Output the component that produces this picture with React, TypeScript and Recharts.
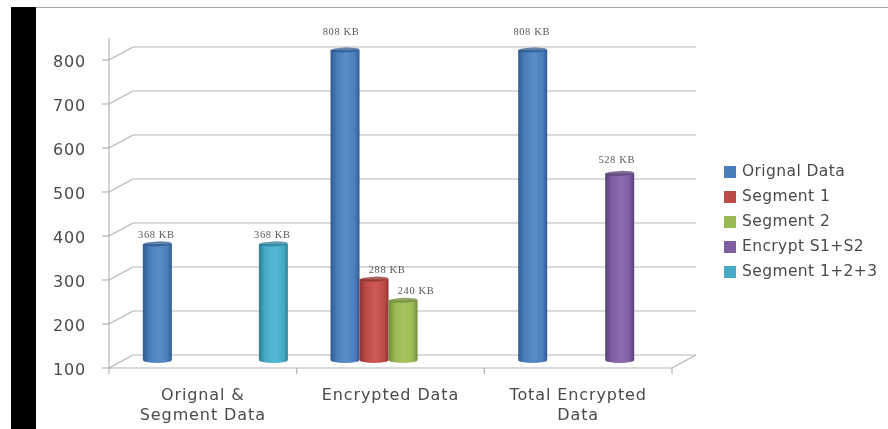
import { Bar, BarChart, CartesianGrid, LabelList, Legend, XAxis, YAxis } from 'recharts'

const categories = ['Orignal &\nSegment Data', 'Encrypted Data', 'Total Encrypted\nData']
const orignalData = [368, 808, 808]
const segment1 = [null, 288, null]
const segment2 = [null, 240, null]
const encryptS1S2 = [null, null, 528]
const segment123 = [368, null, null]
const yTicks = [100, 200, 300, 400, 500, 600, 700, 800]

const data = categories.map((name, i) => ({
	name,
	orignal: orignalData[i],
	seg1: segment1[i],
	seg2: segment2[i],
	encrypt: encryptS1S2[i],
	seg123: segment123[i],
}))

const series = [
	{ key: 'orignal', label: 'Orignal Data', color: '#4a7ebb', dark: '#2f5a8f', light: '#5a8ecb' },
	{ key: 'seg1', label: 'Segment 1', color: '#be4b48', dark: '#8f3330', light: '#cf5a56' },
	{ key: 'seg2', label: 'Segment 2', color: '#98b954', dark: '#6f8a38', light: '#a8c762' },
	{ key: 'encrypt', label: 'Encrypt S1+S2', color: '#7d5fa0', dark: '#574074', light: '#8c6db0' },
	{ key: 'seg123', label: 'Segment 1+2+3', color: '#46aac5', dark: '#2c7f96', light: '#52bad6' },
]

const W = 888
const H = 429
const FONT = '"DejaVu Sans", sans-serif'
const TEXT = '#4a4a4a'
const AXIS = '#b5b5b5'

// hand placed data labels in the original, [dx, lift]
const labelNudge: Record<string, [number, number]> = {
	'orignal-368': [-1, 9],
	'orignal-808-1': [-4, 18],
	'orignal-808-2': [-1, 18],
	'seg1-288': [13, 9],
	'seg2-240': [13, 9],
	'encrypt-528': [-3, 13],
	'seg123-368': [-1, 9],
}

const Cylinder = (props: any) => {
	const { x, y, width, height, seriesKey } = props
	if (height == null || height <= 0) return null
	const s = series.find((d) => d.key === seriesKey)!
	const bottom = y + height
	const rx = width / 2
	return (
		<g>
			<path
				d={`M${x} ${y} L${x} ${bottom - 2} A${rx} 3 0 0 0 ${x + width} ${bottom - 2} L${x + width} ${y} Z`}
				fill={`url(#cyl-${seriesKey})`}
			/>
			<ellipse
				cx={x + rx}
				cy={y}
				rx={rx}
				ry={2.5}
				fill={s.dark}
				fillOpacity={0.75}
				transform={`rotate(-2 ${x + rx} ${y})`}
			/>
		</g>
	)
}

const BarLabel = (props: any) => {
	const { x, y, width, value, index, seriesKey } = props
	if (value == null) return null
	const nudge =
		labelNudge[`${seriesKey}-${value}-${index}`] || labelNudge[`${seriesKey}-${value}`] || [0, 9]
	return (
		<text
			x={x + width / 2 + nudge[0]}
			y={y - nudge[1] + 3}
			textAnchor='middle'
			fontFamily='"Liberation Serif", serif'
			fontSize={10.5}
			letterSpacing={0.6}
			fill='#5a5a5a'
		>
			{value} KB
		</text>
	)
}

const ValueTick = (props: any) => {
	const { x, y, payload } = props
	return (
		<g>
			<line x1={x - 7} y1={y} x2={x} y2={y} stroke={AXIS} strokeWidth={1.2} />
			<line x1={x} y1={y} x2={x + 24} y2={y - 13} stroke={AXIS} strokeWidth={1.2} />
			<text x={x - 23} y={y + 7} textAnchor='end' fontFamily={FONT} fontSize={16} letterSpacing={0.8} fill={TEXT}>
				{payload.value}
			</text>
		</g>
	)
}

const CategoryTick = (props: any) => {
	const { x, y, payload, index, width, visibleTicksCount } = props
	const band = width / visibleTicksCount
	const lines = String(payload.value).split('\n')
	return (
		<g>
			{index === 0 && <line x1={x - band / 2} y1={y} x2={x - band / 2} y2={y + 6} stroke={AXIS} strokeWidth={1.2} />}
			<line x1={x + band / 2} y1={y} x2={x + band / 2} y2={y + 6} stroke={AXIS} strokeWidth={1.2} />
			{index === visibleTicksCount - 1 && (
				<line x1={x + band / 2} y1={y} x2={x + band / 2 + 24} y2={y - 13} stroke={AXIS} strokeWidth={1.2} />
			)}
			<text textAnchor='middle' fontFamily={FONT} fontSize={16} letterSpacing={0.9} fill={TEXT}>
				{lines.map((line, i) => (
					<tspan key={line} x={x} y={y + 32 + i * 20}>
						{line}
					</tspan>
				))}
			</text>
		</g>
	)
}

const layer = { position: 'absolute', left: 0, top: 0 } as const

export default function App() {
	return (
		<div style={{ position: 'absolute', left: 0, top: 0, width: W, height: H, background: '#fff', overflow: 'hidden', filter: 'blur(0.5px)' }}>
			<div style={{ ...layer, left: 11, top: 7, width: 25, height: 422, background: '#000' }} />
			<div style={{ ...layer, left: 36, top: 7, width: 852, height: 1, background: '#aaa' }} />

			{/* back wall */}
			<div style={layer}>
				<BarChart width={W} height={H} data={data} margin={{ left: 133, right: 192, top: 47, bottom: 74 }}>
					<CartesianGrid horizontal vertical={false} stroke='#b8b8b8' strokeWidth={1.2} />
					<XAxis dataKey='name' hide />
					<YAxis width={0} domain={[100, 800]} allowDataOverflow ticks={yTicks} interval={0} tick={() => <g />} axisLine={false} tickLine={false} />
					<Bar dataKey='seg1' fill='none' isAnimationActive={false} />
				</BarChart>
			</div>

			{/* front axes */}
			<div style={layer}>
				<BarChart width={W} height={H} data={data} margin={{ left: 49, right: 216, top: 38, bottom: 0 }}>
					<XAxis
						dataKey='name'
						height={61}
						tickLine={false}
						tickSize={0}
						tickMargin={0}
						tick={<CategoryTick />}
						interval={0}
						stroke={AXIS}
						strokeWidth={1.2}
					/>
					<YAxis
						width={60}
						domain={[100, 850]}
						ticks={yTicks}
						interval={0}
						tickLine={false}
						tickSize={0}
						tickMargin={0}
						tick={<ValueTick />}
						stroke={AXIS}
						strokeWidth={1.2}
					/>
					<Bar dataKey='orignal' fill='none' isAnimationActive={false} />
				</BarChart>
			</div>

			{/* bars, sitting halfway into the floor */}
			<div style={layer}>
				<BarChart
					width={W}
					height={H}
					data={data}
					barGap={0}
					barCategoryGap='11.65%'
					margin={{ left: 121, right: 40, top: 31.5, bottom: 67 }}
				>
					<defs>
						{series.map((s) => (
							<linearGradient key={s.key} id={`cyl-${s.key}`} x1='0' y1='0' x2='1' y2='0'>
								<stop offset='0%' stopColor={s.dark} />
								<stop offset='22%' stopColor={s.color} />
								<stop offset='55%' stopColor={s.light} />
								<stop offset='85%' stopColor={s.color} />
								<stop offset='100%' stopColor={s.dark} />
							</linearGradient>
						))}
					</defs>
					<XAxis dataKey='name' hide />
					<YAxis hide domain={[100, 850]} />
					<Legend
						layout='vertical'
						align='right'
						verticalAlign='top'
						iconType='square'
						iconSize={12}
						itemSorter={null}
						wrapperStyle={{ left: 724, top: 159, width: 164, right: 'auto' }}
						formatter={(value: string) => (
							<span style={{ color: TEXT, fontFamily: FONT, fontSize: 15.5, letterSpacing: 0.4, lineHeight: '25px', marginLeft: 2 }}>{value}</span>
						)}
					/>
					{series.map((s) => (
						<Bar
							key={s.key}
							dataKey={s.key}
							name={s.label}
							fill={s.color}
							isAnimationActive={false}
							shape={<Cylinder seriesKey={s.key} />}
						>
							<LabelList dataKey={s.key} content={<BarLabel seriesKey={s.key} />} />
						</Bar>
					))}
				</BarChart>
			</div>
		</div>
	)
}
